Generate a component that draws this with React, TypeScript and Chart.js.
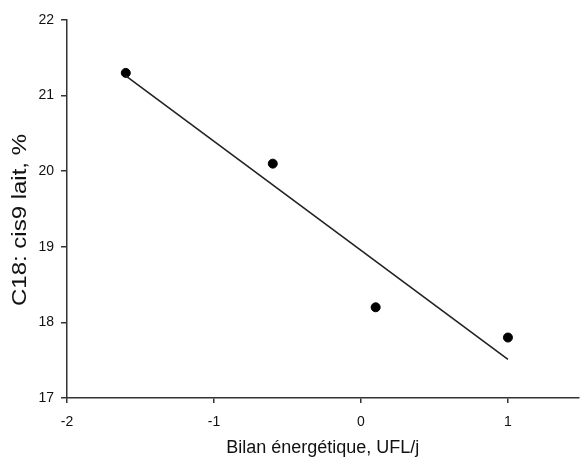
import React, { useEffect, useRef } from "react";
import { Chart, registerables } from "chart.js";

Chart.register(...registerables);

const bilanX = [-1.6, -0.6, 0.1, 1.0];
const c18Y = [21.3, 20.1, 18.2, 17.8];
const fitX = [-1.6, 1.0];
const fitY = [21.26, 17.51];
const xTicks = [-2, -1, 0, 1];
const yTicks = [17, 18, 19, 20, 21, 22];
const xTitle = "Bilan énergétique, UFL/j";
const yTitle = "C18: cis9 lait, %";

const FONT = "'Liberation Sans', Arial, sans-serif";
const AXIS = "#333";
const TEXT = "#111";

const yTitlePlugin = {
  id: "yTitleStretched",
  afterDraw(chart: any) {
    const ctx = chart.ctx;
    const area = chart.chartArea;
    ctx.save();
    ctx.translate(20, (area.top + area.bottom) / 2 + 11);
    ctx.rotate(-Math.PI / 2);
    ctx.scale(1.2, 1);
    ctx.font = `20px ${FONT}`;
    ctx.fillStyle = TEXT;
    ctx.textAlign = "center";
    ctx.textBaseline = "middle";
    ctx.fillText(yTitle, 0, 0);
    ctx.restore();
  },
};

export default function App() {
  const ref = useRef<HTMLCanvasElement | null>(null);
  useEffect(() => {
    if (!ref.current) return;
    const chart = new Chart(ref.current, {
      type: "scatter",
      data: {
        datasets: [
          {
            type: "line",
            data: fitX.map((x, i) => ({ x, y: fitY[i] })),
            borderColor: "#222",
            borderWidth: 1.6,
            pointRadius: 0,
            fill: false,
          } as any,
          {
            data: bilanX.map((x, i) => ({ x, y: c18Y[i] })),
            backgroundColor: "#000",
            borderColor: "#000",
            pointRadius: 4.5,
          },
        ],
      },
      options: {
        responsive: false,
        animation: false,
        layout: { padding: { top: 20, left: 0, right: 0, bottom: 0 } },
        plugins: { legend: { display: false }, tooltip: { enabled: false } },
        scales: {
          x: {
            type: "linear",
            min: -2,
            max: 1.48,
            afterBuildTicks: (s: any) => {
              s.ticks = xTicks.map((v) => ({ value: v }));
            },
            afterFit: (s: any) => {
              s.height = 62;
            },
            border: { display: true, color: AXIS, width: 1.5 },
            grid: { display: true, drawOnChartArea: false, drawTicks: true, tickLength: 5, color: AXIS, lineWidth: 1.5 },
            ticks: { color: TEXT, font: { family: FONT, size: 14 }, padding: 11, maxRotation: 0 },
            title: {
              display: true,
              text: xTitle,
              color: TEXT,
              font: { family: FONT, size: 18 },
              padding: { top: 4, bottom: 1 },
            },
          },
          y: {
            type: "linear",
            min: 17,
            max: 22,
            afterBuildTicks: (s: any) => {
              s.ticks = yTicks.map((v) => ({ value: v }));
            },
            afterFit: (s: any) => {
              s.width = 67;
            },
            border: { display: true, color: AXIS, width: 1.5 },
            grid: { display: true, drawOnChartArea: false, drawTicks: true, tickLength: 6, color: AXIS, lineWidth: 1.5 },
            ticks: { color: TEXT, font: { family: FONT, size: 14 }, padding: 7 },
          },
        },
      },
      plugins: [yTitlePlugin],
    });
    return () => chart.destroy();
  }, []);
  return (
    <div style={{ position: "fixed", left: 0, top: 0, width: 584, height: 460, background: "#fff" }}>
      <canvas ref={ref} width={584} height={460} style={{ display: "block" }} />
    </div>
  );
}
